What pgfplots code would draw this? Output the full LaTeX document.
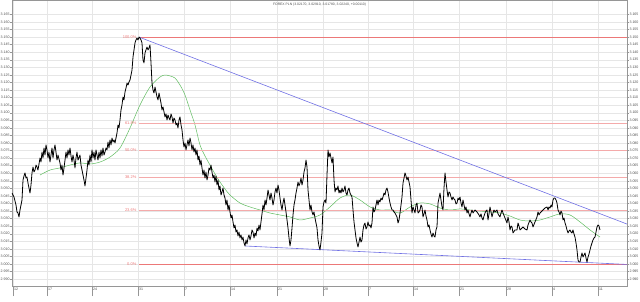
\documentclass[border=0pt]{standalone}
\usepackage{pgfplots}
\usepackage{pgfplotstable}
\pgfplotsset{compat=1.18}
\usepackage{fontspec}
\setmainfont{Liberation Sans}
\definecolor{fibred}{RGB}{236,120,120}
\definecolor{fiblight}{RGB}{244,170,170}
\definecolor{trendblue}{RGB}{112,112,228}
\definecolor{magreen}{RGB}{96,188,96}
\definecolor{gridgray}{RGB}{230,230,230}
\definecolor{axisgray}{RGB}{150,150,150}
\definecolor{labgray}{RGB}{80,80,80}

\pgfplotstableread{
x y
12 3.0469
14 3.0443
16 3.0390
17 3.0344
18 3.0337
19 3.0311
20 3.0357
21 3.0390
22 3.0423
23 3.0555
24 3.0582
25 3.0602
26 3.0568
27 3.0575
28 3.0535
29 3.0502
30 3.0469
31 3.0522
32 3.0602
33 3.0641
34 3.0608
35 3.0621
36 3.0654
37 3.0641
38 3.0621
40 3.0701
41 3.0674
42 3.0740
43 3.0701
44 3.0767
45 3.0720
46 3.0787
47 3.0754
48 3.0701
49 3.0740
50 3.0674
51 3.0720
52 3.0767
53 3.0701
54 3.0754
55 3.0787
56 3.0740
57 3.0687
58 3.0720
60 3.0668
61 3.0621
62 3.0654
63 3.0588
64 3.0635
65 3.0687
66 3.0740
67 3.0701
68 3.0754
69 3.0720
70 3.0767
71 3.0714
72 3.0674
73 3.0720
74 3.0687
75 3.0635
76 3.0701
77 3.0740
78 3.0687
80 3.0720
81 3.0654
82 3.0621
83 3.0588
84 3.0555
85 3.0516
86 3.0568
87 3.0621
88 3.0687
89 3.0654
90 3.0720
91 3.0674
92 3.0754
93 3.0701
94 3.0740
95 3.0687
96 3.0754
97 3.0720
98 3.0687
99 3.0740
100 3.0701
101 3.0754
102 3.0714
103 3.0767
104 3.0720
105 3.0740
106 3.0767
107 3.0754
108 3.0806
109 3.0767
110 3.0820
111 3.0787
112 3.0833
113 3.0806
114 3.0820
115 3.0800
116 3.0833
117 3.0866
118 3.0919
119 3.0899
120 3.0952
121 3.1018
122 3.1051
123 3.1104
124 3.1084
125 3.1137
126 3.1163
127 3.1196
128 3.1183
129 3.1203
130 3.1216
131 3.1249
132 3.1282
133 3.1368
134 3.1415
135 3.1461
136 3.1481
137 3.1494
138 3.1481
139 3.1500
140 3.1494
141 3.1481
142 3.1461
143 3.1348
144 3.1329
145 3.1395
146 3.1415
147 3.1434
148 3.1415
149 3.1428
150 3.1448
151 3.1329
152 3.1196
153 3.1150
154 3.1130
155 3.1170
156 3.1137
157 3.1104
158 3.1084
159 3.1130
160 3.1097
161 3.1064
162 3.1018
163 3.1038
164 3.1005
165 3.0972
166 3.0992
167 3.0952
168 3.0985
169 3.0965
170 3.0952
171 3.0992
172 3.0972
173 3.0932
174 3.0965
175 3.0952
176 3.0919
177 3.0932
178 3.0899
179 3.0952
180 3.0972
181 3.0919
182 3.0886
183 3.0820
184 3.0773
185 3.0800
186 3.0754
187 3.0787
188 3.0820
189 3.0780
190 3.0833
191 3.0800
192 3.0754
193 3.0787
194 3.0740
195 3.0767
196 3.0720
197 3.0754
198 3.0687
199 3.0714
200 3.0654
201 3.0687
202 3.0635
203 3.0588
204 3.0621
205 3.0568
206 3.0608
207 3.0555
208 3.0588
209 3.0635
210 3.0621
211 3.0654
212 3.0608
213 3.0568
214 3.0588
215 3.0542
216 3.0582
217 3.0522
218 3.0555
219 3.0489
220 3.0516
221 3.0456
222 3.0476
223 3.0502
224 3.0456
225 3.0436
226 3.0390
227 3.0423
228 3.0357
229 3.0390
230 3.0344
231 3.0304
232 3.0324
233 3.0278
234 3.0238
235 3.0258
236 3.0211
237 3.0225
238 3.0185
239 3.0211
240 3.0172
241 3.0192
242 3.0159
243 3.0178
244 3.0139
245 3.0119
246 3.0159
247 3.0132
248 3.0172
249 3.0192
250 3.0159
251 3.0185
252 3.0225
253 3.0211
254 3.0172
255 3.0205
256 3.0185
257 3.0238
258 3.0218
259 3.0258
260 3.0225
261 3.0278
262 3.0331
263 3.0390
264 3.0357
265 3.0423
266 3.0390
267 3.0436
268 3.0489
269 3.0456
270 3.0423
271 3.0469
272 3.0436
273 3.0390
274 3.0423
275 3.0476
276 3.0502
277 3.0469
278 3.0522
279 3.0489
280 3.0436
281 3.0390
282 3.0357
283 3.0403
284 3.0436
285 3.0390
286 3.0344
287 3.0291
288 3.0238
289 3.0172
290 3.0119
291 3.0159
292 3.0238
293 3.0324
294 3.0390
295 3.0423
296 3.0469
297 3.0502
298 3.0542
299 3.0516
300 3.0535
301 3.0568
302 3.0522
303 3.0555
304 3.0608
305 3.0635
306 3.0687
307 3.0641
308 3.0489
309 3.0423
310 3.0357
311 3.0390
312 3.0344
313 3.0324
314 3.0344
315 3.0304
316 3.0271
317 3.0238
318 3.0159
319 3.0119
320 3.0093
321 3.0145
322 3.0205
323 3.0377
324 3.0410
325 3.0423
326 3.0403
327 3.0588
328 3.0754
329 3.0707
330 3.0734
331 3.0701
332 3.0668
333 3.0707
334 3.0555
335 3.0476
336 3.0502
337 3.0489
338 3.0516
339 3.0469
340 3.0489
341 3.0469
342 3.0502
343 3.0476
344 3.0489
345 3.0516
346 3.0469
347 3.0456
348 3.0489
349 3.0502
350 3.0469
351 3.0456
352 3.0443
353 3.0357
354 3.0278
355 3.0225
356 3.0172
357 3.0139
358 3.0112
359 3.0145
360 3.0178
361 3.0145
362 3.0159
363 3.0225
364 3.0258
365 3.0271
366 3.0231
367 3.0245
368 3.0278
369 3.0251
370 3.0258
371 3.0238
372 3.0271
373 3.0377
374 3.0344
375 3.0357
376 3.0390
377 3.0423
378 3.0390
379 3.0423
380 3.0410
381 3.0436
382 3.0423
383 3.0443
384 3.0469
385 3.0456
386 3.0489
387 3.0502
388 3.0476
389 3.0436
390 3.0403
391 3.0377
392 3.0357
393 3.0357
394 3.0344
395 3.0337
396 3.0324
397 3.0311
398 3.0271
399 3.0291
400 3.0337
401 3.0390
402 3.0443
403 3.0535
404 3.0568
405 3.0602
406 3.0582
407 3.0555
408 3.0575
409 3.0542
410 3.0509
411 3.0423
412 3.0337
413 3.0377
414 3.0357
415 3.0337
416 3.0390
417 3.0403
418 3.0337
419 3.0344
420 3.0357
421 3.0390
422 3.0377
423 3.0311
424 3.0331
425 3.0357
426 3.0317
427 3.0291
428 3.0245
429 3.0258
430 3.0225
431 3.0198
432 3.0178
433 3.0205
434 3.0185
435 3.0178
436 3.0225
437 3.0245
438 3.0403
439 3.0436
440 3.0469
441 3.0423
442 3.0377
443 3.0357
444 3.0502
445 3.0602
446 3.0542
447 3.0489
448 3.0443
449 3.0476
450 3.0469
451 3.0443
452 3.0423
453 3.0443
454 3.0430
455 3.0423
456 3.0397
457 3.0403
458 3.0436
459 3.0423
460 3.0443
461 3.0403
462 3.0377
463 3.0423
464 3.0390
465 3.0357
466 3.0377
467 3.0337
468 3.0357
469 3.0331
470 3.0311
471 3.0337
472 3.0357
473 3.0337
475 3.0357
477 3.0344
479 3.0324
480 3.0311
481 3.0331
482 3.0304
483 3.0291
484 3.0317
485 3.0337
486 3.0350
487 3.0357
488 3.0291
489 3.0331
490 3.0377
491 3.0344
492 3.0311
493 3.0337
494 3.0357
495 3.0344
497 3.0357
498 3.0331
500 3.0311
501 3.0337
502 3.0357
503 3.0337
505 3.0304
507 3.0271
508 3.0311
509 3.0278
510 3.0225
511 3.0251
512 3.0245
513 3.0205
515 3.0225
517 3.0225
518 3.0271
519 3.0251
520 3.0225
522 3.0238
523 3.0245
525 3.0231
527 3.0225
528 3.0258
530 3.0291
531 3.0278
532 3.0271
533 3.0245
535 3.0278
537 3.0311
538 3.0344
539 3.0324
540 3.0337
542 3.0350
543 3.0357
545 3.0370
547 3.0377
548 3.0357
549 3.0377
550 3.0370
551 3.0390
552 3.0377
553 3.0423
554 3.0436
555 3.0436
556 3.0423
557 3.0403
558 3.0357
559 3.0344
560 3.0324
561 3.0350
562 3.0337
563 3.0291
564 3.0304
565 3.0271
566 3.0251
567 3.0225
568 3.0205
569 3.0218
570 3.0225
571 3.0211
572 3.0205
573 3.0225
574 3.0198
575 3.0178
576 3.0139
577 3.0093
578 3.0026
579 3.0013
580 3.0013
581 3.0046
582 3.0073
583 3.0046
584 3.0060
585 3.0073
586 3.0040
587 3.0013
588 3.0046
589 3.0066
590 3.0093
591 3.0119
592 3.0139
593 3.0159
594 3.0172
595 3.0178
596 3.0211
597 3.0245
598 3.0258
599 3.0251
600 3.0225
}\pricetable

\pgfplotstableread{
x y
40 3.0588
50 3.0621
60 3.0635
70 3.0654
80 3.0668
90 3.0661
100 3.0674
110 3.0707
120 3.0767
130 3.0899
140 3.1051
150 3.1170
160 3.1236
165 3.1249
170 3.1243
175 3.1229
180 3.1183
185 3.1117
190 3.1018
195 3.0919
200 3.0787
205 3.0714
210 3.0654
215 3.0595
220 3.0542
225 3.0496
230 3.0456
240 3.0403
250 3.0377
260 3.0357
270 3.0337
280 3.0324
290 3.0311
300 3.0291
310 3.0304
320 3.0324
330 3.0377
340 3.0436
350 3.0456
360 3.0423
370 3.0377
380 3.0357
390 3.0357
400 3.0337
410 3.0377
420 3.0403
430 3.0397
440 3.0370
450 3.0357
460 3.0364
470 3.0357
480 3.0350
490 3.0344
500 3.0337
510 3.0317
520 3.0291
530 3.0284
540 3.0291
550 3.0311
560 3.0331
570 3.0324
580 3.0278
590 3.0225
600 3.0178
}\matable

\begin{document}
\begin{tikzpicture}
\useasboundingbox (-12bp,-16bp) rectangle (628bp,286bp);
\pgfplotsset{
  base/.style={
    scale only axis, width=615bp, height=286bp,
    xmin=12, xmax=627, ymin=2.98545, ymax=3.1745,
    ytick={2.990,2.995,3.000,3.005,3.010,3.015,3.020,3.025,3.030,3.035,3.040,3.045,3.050,3.055,3.060,3.065,3.070,3.075,3.080,3.085,3.090,3.095,3.100,3.105,3.110,3.115,3.120,3.125,3.130,3.135,3.140,3.145,3.150,3.155,3.160,3.165},
    xtick={13,47,92,138,184,230,277,323,368,413,459,506,552,598},
    /pgf/number format/fixed,
    /pgf/number format/fixed zerofill,
    /pgf/number format/precision=3,
    /pgf/number format/assume math mode=true,
    yticklabel style={font=\fontsize{3.6}{4}\selectfont, text=labgray, inner sep=0.8bp},
    tick style={axisgray, line width=0.4bp},
    tick align=outside,
  },
  fibstrip/.style={fill=fibred, draw=none, mark=none},
  fibdotstrip/.style={fill=fiblight, draw=none, mark=none},
}
\begin{axis}[base,
  axis line style={axisgray, line width=0.6bp},
  xticklabels={}, xtick style={draw=none},
  ytick pos=left, yticklabel pos=left, major tick length=1.5bp,
  xmajorgrids, ymajorgrids,
  major grid style={gridgray, line width=0.4bp},
  clip=true,
]
% moving average
\addplot[color=magreen, line width=0.5bp, smooth, mark=none] table[x=x, y=y] {\matable};
% Fibonacci levels as one-pixel strips (100 %, 61.8 %, 50 %, 38.2 %, 23.6 %, 0 %)
\addplot[fibstrip] coordinates {(139,3.15004) (627,3.15004) (627,3.14938) (139,3.14938)};
\addplot[fibdotstrip] coordinates {(139,3.09320) (627,3.09320) (627,3.09253) (139,3.09253)};
\addplot[fibdotstrip] coordinates {(139,3.07535) (627,3.07535) (627,3.07469) (139,3.07469)};
\addplot[fibdotstrip] coordinates {(139,3.05750) (627,3.05750) (627,3.05684) (139,3.05684)};
\addplot[fibdotstrip] coordinates {(139,3.03569) (627,3.03569) (627,3.03503) (139,3.03503)};
\addplot[fibstrip] coordinates {(139,2.99999) (627,2.99999) (627,2.99933) (139,2.99933)};
% trend lines
\addplot[color=trendblue, line width=0.6bp, mark=none] coordinates {(139,3.1500) (627,3.0264)};
\addplot[color=trendblue, line width=0.6bp, mark=none] coordinates {(245,3.0119) (627,2.9997)};
% price
\addplot[color=black, line width=0.8bp, line join=round, mark=none] table[x=x, y=y] {\pricetable};
% fib labels
\begin{scope}[every node/.style={anchor=east, text=fibred, font=\fontsize{4}{4.5}\selectfont, inner sep=0.5bp}]
\node at (axis cs:137,3.1497) {100.0\%};
\node at (axis cs:137,3.0929) {61.8\%};
\node at (axis cs:137,3.0750) {50.0\%};
\node at (axis cs:137,3.0572) {38.2\%};
\node at (axis cs:137,3.0354) {23.6\%};
\node at (axis cs:137,2.9997) {0.0\%};
\end{scope}
\node[font=\fontsize{3.4}{4}\selectfont, text=labgray, anchor=north] at (rel axis cs:0.5,1) {FOREX PLN (3.02170, 3.02910, 3.01780, 3.02240, +0.00110)};
\end{axis}
% right-hand price labels
\begin{axis}[base,
  axis line style={draw=none},
  xtick=\empty,
  ytick pos=right, yticklabel pos=right, major tick length=1.5bp,
]
\end{axis}
% date band
\begin{axis}[base,
  axis line style={draw=none},
  ytick=\empty,
  xtick pos=bottom, major tick length=10bp,
  xticklabels={12,17,24,31,7,14,21,28,7,14,21,28,4,11},
  xticklabel style={font=\fontsize{3.6}{4}\selectfont, text=labgray, anchor=north west, inner sep=0.5bp, yshift=9bp, xshift=0.5bp},
]
\draw[axisgray, line width=0.4bp] ([yshift=-10bp]rel axis cs:0,0) -- ([yshift=-10bp]rel axis cs:1,0);
\draw[axisgray, line width=0.4bp] ([yshift=-10bp]rel axis cs:1,0) -- (rel axis cs:1,0);
\begin{scope}[every node/.style={anchor=north west, text=labgray, font=\fontsize{3.6}{4}\selectfont, inner sep=0.5bp}]
\node at ([yshift=-10.3bp]axis cs:13,2.98545) {2011};
\node at ([yshift=-10.3bp]axis cs:138,2.98545) {February};
\node at ([yshift=-10.3bp]axis cs:323,2.98545) {March};
\node at ([yshift=-10.3bp]axis cs:514,2.98545) {April};
\end{scope}
\end{axis}
\end{tikzpicture}
\end{document}
